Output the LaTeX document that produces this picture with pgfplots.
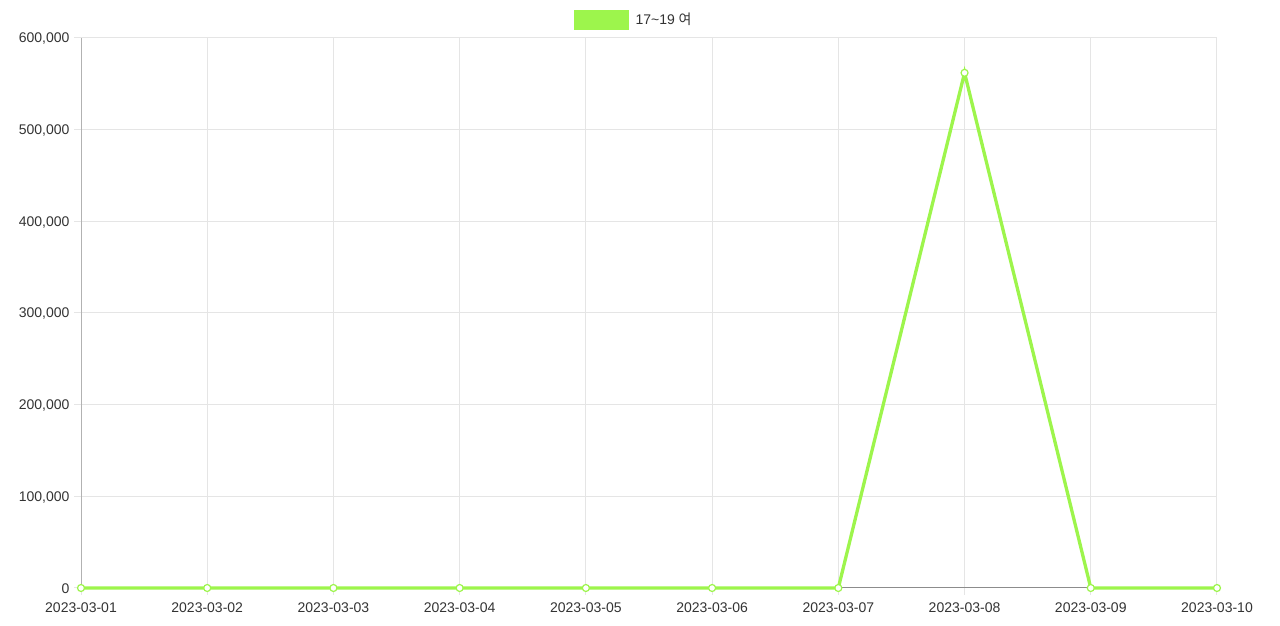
\documentclass[border=0pt]{standalone}
\usepackage{pgfplots}
\pgfplotsset{compat=1.18}
\usepackage{fontspec}
\setmainfont{Liberation Sans}
\newfontfamily\kr{Noto Sans CJK KR}
\definecolor{lgreen}{RGB}{157,245,76}
\definecolor{gridc}{RGB}{229,229,229}
\definecolor{txt}{RGB}{51,51,51}
\begin{document}
\begin{tikzpicture}[x=1pt,y=1pt]
\path (0,0) rectangle (1280,626);
\begin{axis}[
  scale only axis, width=1136pt, height=550pt,
  anchor=south west, at={(81pt,38pt)},
  xmin=0, xmax=9, ymin=0, ymax=600000,
  xtick={0,...,9},
  xticklabels={2023-03-01,2023-03-02,2023-03-03,2023-03-04,2023-03-05,2023-03-06,2023-03-07,2023-03-08,2023-03-09,2023-03-10},
  ytick={0,100000,...,600000},
  scaled y ticks=false,
  /pgf/number format/fixed,
  /pgf/number format/1000 sep={,},
  /pgf/number format/assume math mode=true,
  ticklabel style={font=\fontsize{14}{16}\selectfont, text=txt},
  xticklabel style={yshift=-4pt},
  yticklabel style={xshift=-1pt, yshift=-1pt},
  xtick pos=bottom, ytick pos=left,
  grid=major, major grid style={gridc, line width=1pt},
  tick align=outside, major tick length=7pt,
  tick style={gridc, line width=1pt},
  axis line style={draw=none},
  clip=false,
  legend style={at={(axis description cs:0.434,1.0509)}, anchor=north west, draw=none, inner sep=0pt, font=\fontsize{14}{16}\selectfont, text=txt, legend cell align=left},
  legend image code/.code={\fill[lgreen] (0pt,-8pt) rectangle (51pt,8pt); \path (56pt,0pt);},
]
\draw[gray!60, line width=1pt] (axis cs:0,0) -- (axis cs:0,600000);
\draw[gray!90, line width=1pt] (axis cs:0,0) -- (axis cs:9,0);
\addplot[lgreen, line width=3.3pt, mark=*, mark size=3.5pt, mark options={fill=white, draw=lgreen, line width=1.2pt}] coordinates {
(0,0) (1,0) (2,0) (3,0) (4,0) (5,0) (6,0) (7,562000) (8,0) (9,0)
};
\addlegendentry{17\textasciitilde19 {\kr 여}}
\end{axis}
\end{tikzpicture}
\end{document}
